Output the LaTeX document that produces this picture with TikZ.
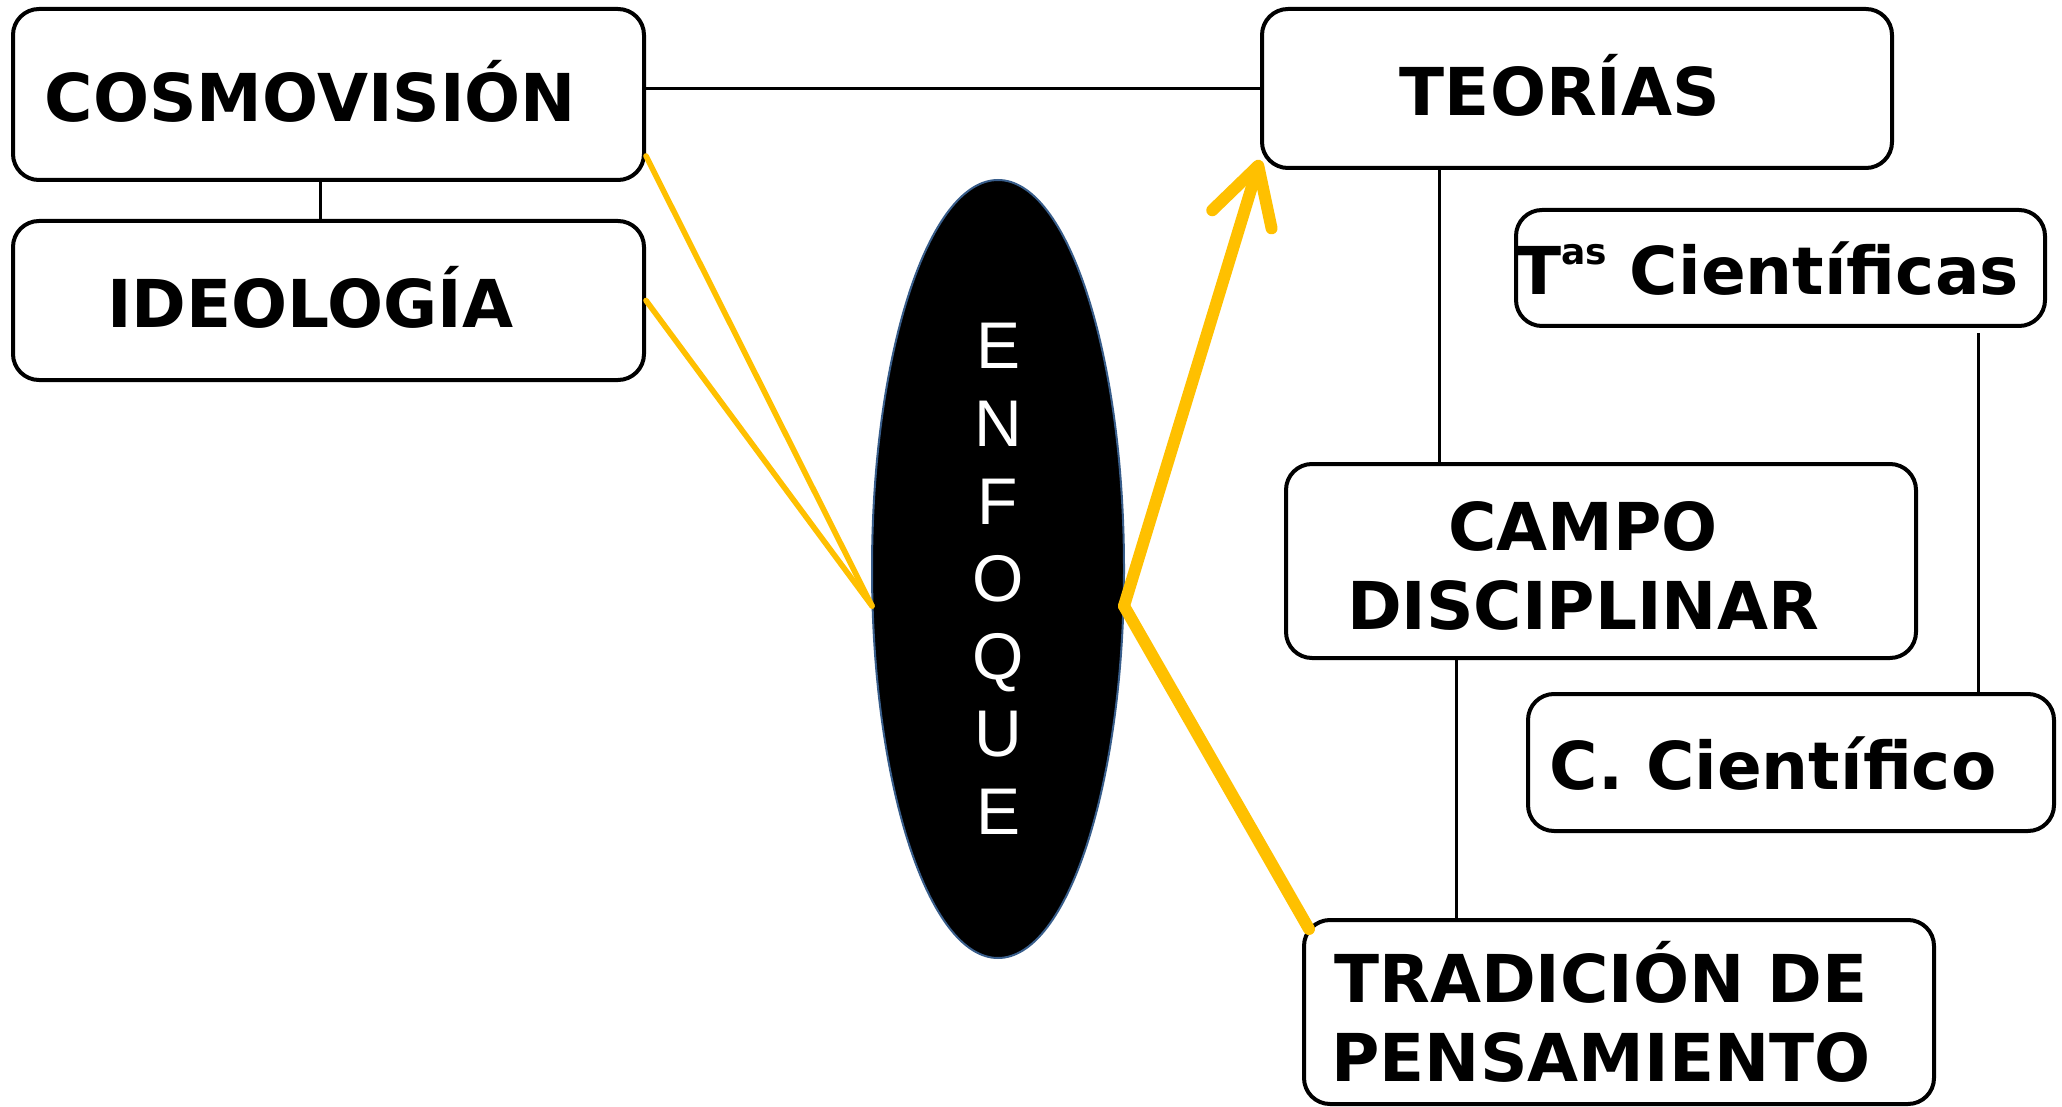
\documentclass[tikz,border=0pt]{standalone}
\usepackage{fontspec}
\setmainfont{DejaVu Sans}
\newfontfamily\arialf{Liberation Sans}
\usetikzlibrary{arrows.meta,shapes.geometric}
\definecolor{gold}{RGB}{255,192,0}
\definecolor{rim}{RGB}{56,93,138}
\newcommand\rsh{\hspace*{18pt}}
\begin{document}
\begin{tikzpicture}[x=0.5pt,y=-0.5pt,
  box/.style={draw,line width=2pt,rounded corners=13pt,fill=white,
    font=\bfseries\fontsize{33}{39.5}\selectfont,align=center,inner sep=0pt},
  oneline/.style={text height=27pt,text depth=0pt},
  link/.style={line width=1.5pt},
  goldthin/.style={draw=gold,line width=2.8pt,line cap=round},
  goldthick/.style={draw=gold,line width=6pt,line cap=round,line join=round},
  enftext/.style={text=white,font=\arialf\fontsize{33}{38.8}\selectfont,align=center,inner sep=0pt}]
\useasboundingbox (0,0) rectangle (2062,1107);

% boxes
\node[box,oneline,minimum width=315.5pt,minimum height=85.5pt] (cosmo) at (328.5,94.5) {COSMOVISIÓN\rsh};
\node[box,oneline,minimum width=315.5pt,minimum height=79.5pt] (ideo) at (328.5,300.5) {IDEOLOGÍA\rsh};
\node[box,oneline,minimum width=315pt,minimum height=79.5pt] (teorias) at (1577,88.5) {TEORÍAS\hspace*{17pt}};
\node[box,oneline,minimum width=264.5pt,minimum height=58pt] (tas) at (1780.5,268) {T\raisebox{15pt}{\fontsize{18}{18}\selectfont as} Científicas\hspace*{13pt}};
\node[box,minimum width=315pt,minimum height=97pt] (campo) at (1601,561) {\rule{0pt}{29pt}CAMPO\rsh\\DISCIPLINAR\rsh};
\node[box,oneline,minimum width=263pt,minimum height=68.5pt] (ccient) at (1791,762.5) {C. Científico\rsh};
\node[box,minimum width=315pt,minimum height=92pt] (trad) at (1619,1012) {TRADICIÓN DE\rsh\\PENSAMIENTO\rsh};

% ellipse
\node[ellipse,fill=black,draw=rim,line width=1pt,minimum width=126pt,minimum height=389pt,inner sep=0pt] (enf) at (998,569) {};
\node[enftext] (enfl) at (998,579) {E\\N\\F\\O\\Q\\U\\E};

\coordinate (eL) at (872,606);
\coordinate (eR) at (1124,606);

% black connectors
\draw[link] (cosmo.east |- teorias.west) -- (teorias.west);
\draw[link] ([xshift=-4pt]cosmo.south) -- ([xshift=-4pt]ideo.north);
\draw[link] ([xshift=-69pt]teorias.south) -- ([xshift=-69pt]teorias.south |- campo.north);
\draw[link] ([xshift=-72.5pt]campo.south) -- ([xshift=-72.5pt]campo.south |- trad.north);
\draw[link] ([xshift=98.75pt,yshift=-2.5pt]tas.south) -- ([xshift=98.75pt]tas.south |- ccient.north);

% gold connectors
\draw[goldthin] ([yshift=13pt]cosmo.south east) -- (eL);
\draw[goldthin] (ideo.east) -- (eL);
\draw[goldthick,-{Straight Barb[length=28pt,width=31pt,round]}] (eR) -- ([yshift=5pt]teorias.south west);
\draw[goldthick] (eR) -- ([xshift=3.5pt,yshift=-5.5pt]trad.north west);
\end{tikzpicture}
\end{document}
